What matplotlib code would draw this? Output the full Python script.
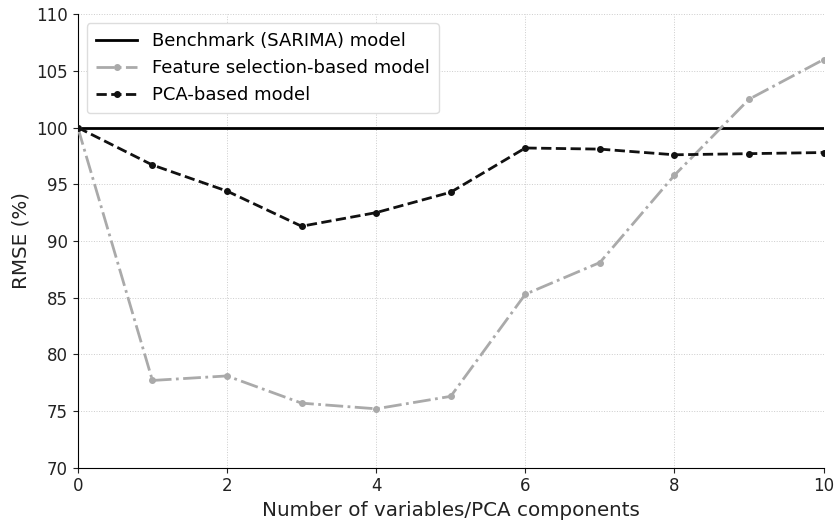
import numpy as np
import matplotlib
matplotlib.use("Agg")
import matplotlib.pyplot as plt

# Data
n_components = [0, 1, 2, 3, 4, 5, 6, 7, 8, 9, 10]
feature_rmse = [100.0, 77.7, 78.1, 75.7, 75.2, 76.3, 85.3, 88.1, 95.8, 102.5, 106.0]
pca_rmse = [100.0, 96.7, 94.4, 91.3, 92.5, 94.3, 98.2, 98.1, 97.6, 97.7, 97.8]
benchmark_rmse = 100

fig = plt.figure(figsize=(8.37, 5.25), dpi=100)
ax = fig.add_axes([0.093, 0.109, 0.891, 0.864])

ax.axhline(benchmark_rmse, color="black", linewidth=2, label="Benchmark (SARIMA) model", zorder=3)
ax.plot(n_components, feature_rmse, color="#aaaaaa", linestyle="-.", linewidth=2,
        marker="o", markersize=4, label="Feature selection-based model", zorder=3)
ax.plot(n_components, pca_rmse, color="#111111", linestyle="--", linewidth=2,
        marker="o", markersize=4, label="PCA-based model", zorder=3)

ax.set_xlim(0, 10)
ax.set_ylim(70, 110)
ax.set_xticks([0, 2, 4, 6, 8, 10])
ax.set_yticks(np.arange(70, 111, 5))
ax.tick_params(labelsize=12, colors="#222222")
ax.set_xlabel("Number of variables/PCA components", fontsize=14.3, color="#222222")
ax.set_ylabel("RMSE (%)", fontsize=14.3, color="#222222")
ax.grid(True, linestyle=":", linewidth=0.7, color="#cccccc")
ax.spines["top"].set_visible(False)
ax.spines["right"].set_visible(False)

ax.legend(loc="upper left", fontsize=13, framealpha=1, edgecolor="#dddddd", borderpad=0.5,
          handlelength=2.3)

fig.savefig("out.png", dpi=100)
